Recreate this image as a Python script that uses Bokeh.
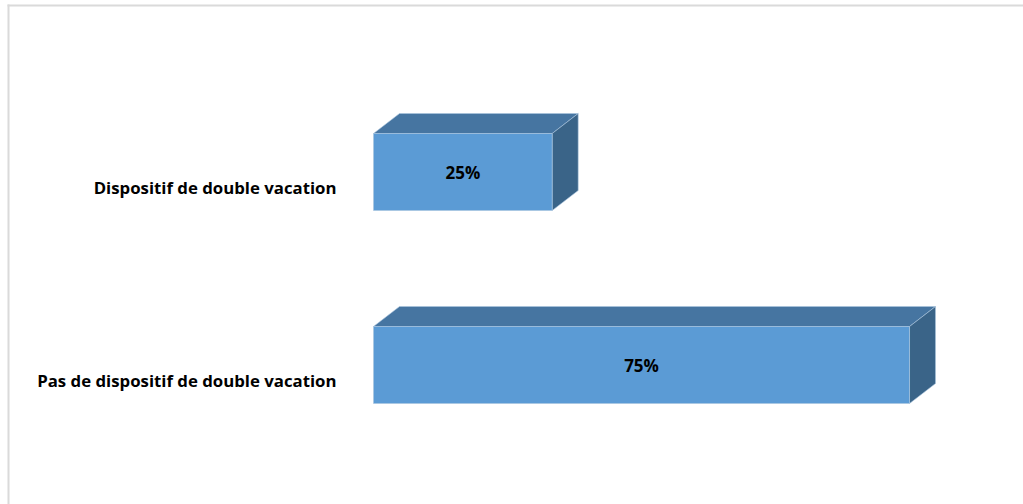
from bokeh.plotting import figure
from bokeh.models import Range1d, BoxAnnotation, ColumnDataSource
from bokeh.embed import file_html
from bokeh.resources import INLINE
from bokeh.core.properties import value

categories = ["Pas de dispositif de double vacation", "Dispositif de double vacation"]
values = [75, 25]
labels = ["75%", "25%"]

FRONT = "#5B9BD5"
TOP = "#4675A1"
SIDE = "#3A6488"
W, H = 1023, 504
PX_PER_VAL = 7.147
PX_PER_CAT = 193.0
DX = 26 / PX_PER_VAL
DY = 20 / PX_PER_CAT
BAR_H = 77 / PX_PER_CAT
LIFT = 16.5 / PX_PER_CAT

ypos = list(range(len(categories)))
x_range = Range1d(-373 / PX_PER_VAL, (W - 373) / PX_PER_VAL)
y_range = Range1d(-(H - 381) / PX_PER_CAT, 1 + 188 / PX_PER_CAT)

p = figure(width=W, height=H, x_range=x_range, y_range=y_range,
           output_backend="svg", toolbar_location=None,
           min_border_left=0, min_border_right=0, min_border_top=0, min_border_bottom=0,
           x_axis_type=None, y_axis_type=None, outline_line_color=None,
           background_fill_color="white", border_fill_color="white")
p.grid.visible = False

fy = [y + LIFT for y in ypos]
tops = [y + BAR_H / 2 for y in fy]
bots = [y - BAR_H / 2 for y in fy]

p.patches(xs=[[0, v, v + DX, DX] for v in values],
          ys=[[t, t, t + DY, t + DY] for t in tops],
          fill_color=TOP, line_color="#A9C4DE", line_width=0.6)
p.patches(xs=[[v, v + DX, v + DX, v] for v in values],
          ys=[[b, b + DY, t + DY, t] for b, t in zip(bots, tops)],
          fill_color=SIDE, line_color="#A9C4DE", line_width=0.6)
p.hbar(y=fy, left=0, right=values, height=BAR_H,
       fill_color=FRONT, line_color="#A9C4DE", line_width=0.6)

src = ColumnDataSource(dict(x=[v / 2 for v in values], y=fy, t=labels))
p.text(x="x", y="y", text="t", source=src, text_align="center", text_baseline="middle",
       text_font=value("Open Sans"), text_font_style="bold", text_font_size="17px", text_color="black")

cat_src = ColumnDataSource(dict(x=[0] * len(ypos), y=ypos, t=categories))
p.text(x="x", y="y", text="t", source=cat_src, x_offset=-37, y_offset=-1,
       text_align="right", text_baseline="middle",
       text_font=value("Open Sans"), text_font_style="bold", text_font_size="16.8px", text_color="black")

for l, r, t, b in [(7, 9, 4, H), (7, W, 4, 6)]:
    p.add_layout(BoxAnnotation(left=l, right=r, top=t, bottom=b,
                               left_units="canvas", right_units="canvas",
                               top_units="canvas", bottom_units="canvas",
                               fill_color="#DADADA", fill_alpha=1, line_color=None))

open("out.html", "w").write(file_html(p, INLINE))
